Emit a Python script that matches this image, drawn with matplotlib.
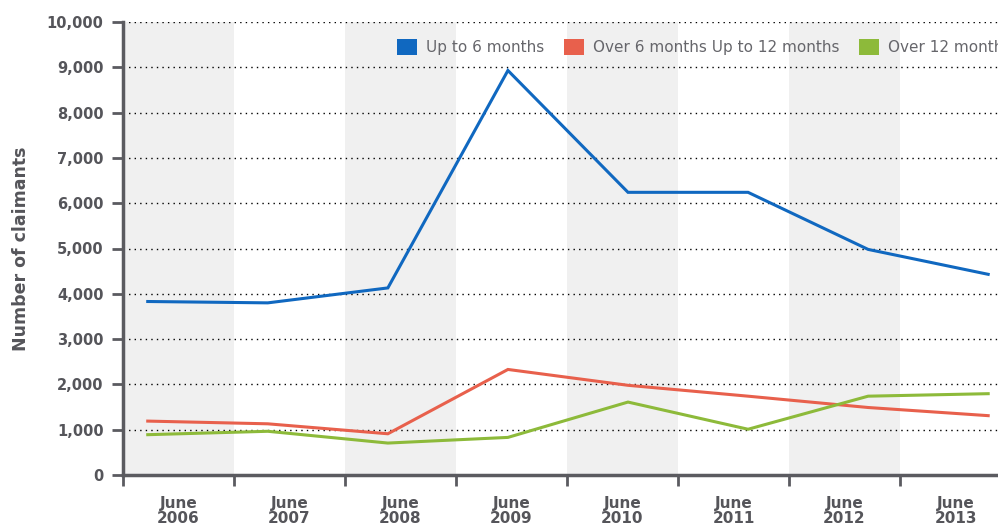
import matplotlib
matplotlib.use("Agg")
import matplotlib.pyplot as plt
from matplotlib.patches import Patch
from matplotlib.ticker import FuncFormatter, MultipleLocator

# data
periods = ['June\n2006', 'June\n2007', 'June\n2008', 'June\n2009',
           'June\n2010', 'June\n2011', 'June\n2012', 'June\n2013']
up_to_6 = [3830, 3800, 4130, 8930, 6240, 6240, 4980, 4430]
six_to_12 = [1190, 1130, 910, 2330, 1980, 1740, 1490, 1310]
over_12 = [890, 965, 705, 830, 1610, 1010, 1740, 1795]
series_names = ['Up to 6 months', 'Over 6 months Up to 12 months', 'Over 12 months']
series_colors = ['#1068c0', '#e8604c', '#8dba3a']

axis_grey = '#5b5b60'
text_grey = '#55555a'

fig = plt.figure(figsize=(9.98, 5.25), dpi=100)
# axes runs a bit past the right edge, like the cropped original
ax = fig.add_axes([123 / 998, 50 / 525, 888 / 998, 453 / 525])

n = len(periods)
ax.set_xlim(0, n)
ax.set_ylim(0, 10000)

# alternating grey bands
for i in range(0, n, 2):
    ax.axvspan(i, i + 1, color='#f0f0f0', lw=0, zorder=0)

ax.yaxis.set_major_locator(MultipleLocator(1000))
ax.yaxis.set_major_formatter(FuncFormatter(lambda v, p: f'{int(v):,}'))
ax.grid(axis='y', color='black', linestyle=(0, (1, 3)), linewidth=1.0, zorder=1)
ax.set_axisbelow(True)

ax.set_xticks(range(n + 1))
ax.set_xticklabels([])
ax.set_xticks([i + 0.5 for i in range(n)], minor=True)
ax.set_xticklabels(periods, minor=True, fontsize=11, fontweight='bold',
                   color=text_grey, linespacing=1.05)
ax.tick_params(axis='x', which='minor', length=0, pad=15)
ax.tick_params(axis='x', which='major', length=8, width=2, color=axis_grey)
ax.tick_params(axis='y', length=8, width=2, color=axis_grey, labelsize=10.5,
               labelcolor=text_grey, pad=6)
for lab in ax.get_yticklabels():
    lab.set_fontweight('bold')

for side in ['top', 'right']:
    ax.spines[side].set_visible(False)
for side in ['left', 'bottom']:
    ax.spines[side].set_color(axis_grey)
    ax.spines[side].set_linewidth(2.5)

ax.set_ylabel('Number of claimants', fontsize=12.5, fontweight='bold',
              color=text_grey, labelpad=12)

# lines use their own hidden x scale (points are spaced wider than the bands)
lx = ax.twiny()
lx.set_xlim(-0.206, 7.19)
lx.axis('off')
xs = list(range(n))
for vals, col in zip([up_to_6, six_to_12, over_12], series_colors):
    lx.plot(xs, vals, color=col, linewidth=2.2, solid_joinstyle='miter', zorder=3)
lx.set_ylim(ax.get_ylim())

handles = [Patch(facecolor=c, edgecolor='none') for c in series_colors]
leg = fig.legend(handles, series_names, ncol=3, loc='center left',
                 bbox_to_anchor=(383 / 998, 1 - 47 / 525), frameon=False,
                 fontsize=11, handlelength=1.3, handleheight=1.3,
                 handletextpad=0.6, columnspacing=1.3, labelcolor='#66666b')

fig.savefig('out.png', dpi=100)
